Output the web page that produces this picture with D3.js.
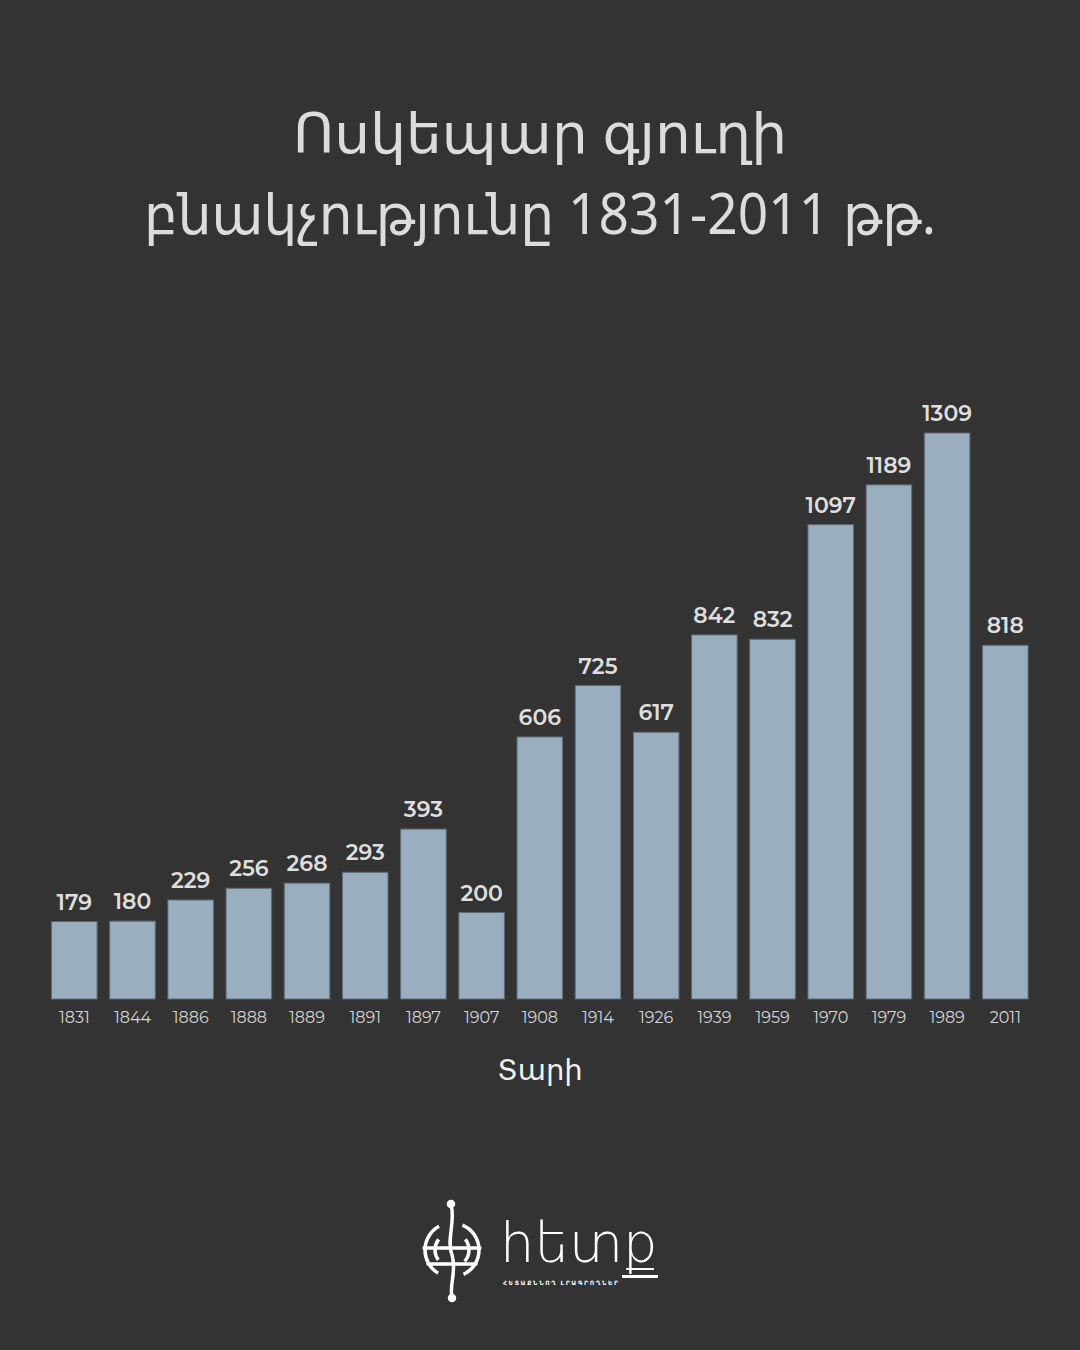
<!DOCTYPE html>
<html><head><meta charset="utf-8">
<script src="https://cdn.jsdelivr.net/npm/d3@7"></script>
<style>
html,body{margin:0;padding:0;background:#333333;}
svg{display:block;}
</style></head>
<body>
<script>
const years = ["1831","1844","1886","1888","1889","1891","1897","1907","1908","1914","1926","1939","1959","1970","1979","1989","2011"];
const population = [179,180,229,256,268,293,393,200,606,725,617,842,832,1097,1189,1309,818];
const titleLines = ["Ոսկեպար գյուղի","բնակչությունը 1831-2011 թթ."];
const xAxisTitle = "Տարի";

const W = 1080, H = 1350;
const svg = d3.select("body").append("svg").attr("width", W).attr("height", H);
svg.append("rect").attr("width", W).attr("height", H).attr("fill", "#333333");

const titleFont = "'Noto Sans','DejaVu Sans',sans-serif";
const titleWidths = [494, 792];
svg.selectAll("text.title").data(titleLines).join("text")
  .attr("class","title")
  .attr("x", W/2).attr("y", (d,i)=> 153 + i*81)
  .attr("text-anchor","middle")
  .attr("fill","#dcdcdc")
  .attr("font-family", titleFont)
  .attr("font-weight", 400)
  .attr("font-size", 56)
  .attr("textLength",(d,i)=>titleWidths[i])
  .attr("lengthAdjust","spacingAndGlyphs")
  .text(d=>d);

const x = d3.scaleBand().domain(years).range([45.2, 1034.4]).paddingInner(0.2).paddingOuter(0.1);
const y = d3.scaleLinear().domain([0, 1309]).range([999, 433]);

const g = svg.append("g");
g.selectAll("rect.bar").data(years).join("rect")
  .attr("class","bar")
  .attr("x", d=>x(d)+0.5)
  .attr("y", (d,i)=>y(population[i]))
  .attr("width", x.bandwidth()-1)
  .attr("height", (d,i)=>y(0)-y(population[i]))
  .attr("fill","#99aebf")
  .attr("stroke","#5f6b75")
  .attr("stroke-width",1);

g.selectAll("text.val").data(years).join("text")
  .attr("class","val")
  .attr("x", d=>x(d)+x.bandwidth()/2)
  .attr("y", (d,i)=>y(population[i]) - 12)
  .attr("text-anchor","middle")
  .attr("fill","#dedede")
  .attr("font-family","'Montserrat','Noto Sans','Open Sans',sans-serif")
  .attr("font-weight",600)
  .attr("font-size",22)
  .text((d,i)=>population[i]);

const xAxis = d3.axisBottom(x).tickSize(0).tickPadding(0);
const ax = svg.append("g").attr("transform","translate(0,1023)").call(xAxis);
ax.select(".domain").remove();
ax.selectAll("text")
  .attr("dy", 0)
  .attr("fill","#d4d4d4")
  .attr("font-family","'Montserrat','Noto Sans','Open Sans',sans-serif")
  .attr("font-size",16);

svg.append("text").attr("x", 540).attr("y", 1080)
  .attr("text-anchor","middle")
  .attr("fill","#f2f2f2")
  .attr("font-family", titleFont)
  .attr("font-size", 29)
  .text(xAxisTitle);

// Logo
const logo = svg.append("g").attr("fill","none").attr("stroke","#ffffff").attr("stroke-width",3.5).attr("stroke-linecap","round");
const cx = 452, cy = 1250;
logo.append("path").attr("d", d3.arc()({innerRadius:27, outerRadius:27, startAngle:-2.6, endAngle:-0.5})).attr("transform",`translate(${cx},${cy})`);
logo.append("path").attr("d", d3.arc()({innerRadius:27, outerRadius:27, startAngle:0.4, endAngle:2.7})).attr("transform",`translate(${cx},${cy})`);
logo.append("path").attr("d", d3.arc()({innerRadius:17, outerRadius:17, startAngle:-2.2, endAngle:-0.9})).attr("transform",`translate(${cx},${cy})`);
logo.append("path").attr("d", d3.arc()({innerRadius:17, outerRadius:17, startAngle:0.9, endAngle:2.3})).attr("transform",`translate(${cx},${cy})`);
logo.append("line").attr("x1",cx-28).attr("y1",cy-2).attr("x2",cx+28).attr("y2",cy-2);
logo.append("line").attr("x1",cx-24).attr("y1",cy+14).attr("x2",cx+24).attr("y2",cy+14);
logo.append("path").attr("d",`M${cx-1},${cy-45} C${cx+4},${cy-30} ${cx-6},${cy-10} ${cx},${cy+5} C${cx+5},${cy+20} ${cx-3},${cy+35} ${cx},${cy+48}`);
logo.append("circle").attr("cx",cx-1).attr("cy",cy-46).attr("r",2.5).attr("fill","#fff");
logo.append("circle").attr("cx",cx).attr("cy",cy+48).attr("r",2.5).attr("fill","#fff");

svg.append("text").attr("x",500).attr("y",1262)
  .attr("fill","#ffffff")
  .attr("font-family", titleFont)
  .attr("font-weight",300)
  .attr("font-size",56)
  .attr("textLength",158)
  .attr("lengthAdjust","spacingAndGlyphs")
  .text("հետք");
svg.append("text").attr("x",503).attr("y",1285)
  .attr("fill","#ffffff")
  .attr("font-family", titleFont)
  .attr("font-weight",700)
  .attr("font-size",6)
  .attr("textLength",115)
  .attr("lengthAdjust","spacing")
  .text("ՀԵՏԱՔՆՆՈՂ ԼՐԱԳՐՈՂՆԵՐ");
svg.append("rect").attr("x",622).attr("y",1275).attr("width",36).attr("height",3).attr("fill","#fff");
</script>
</body></html>
